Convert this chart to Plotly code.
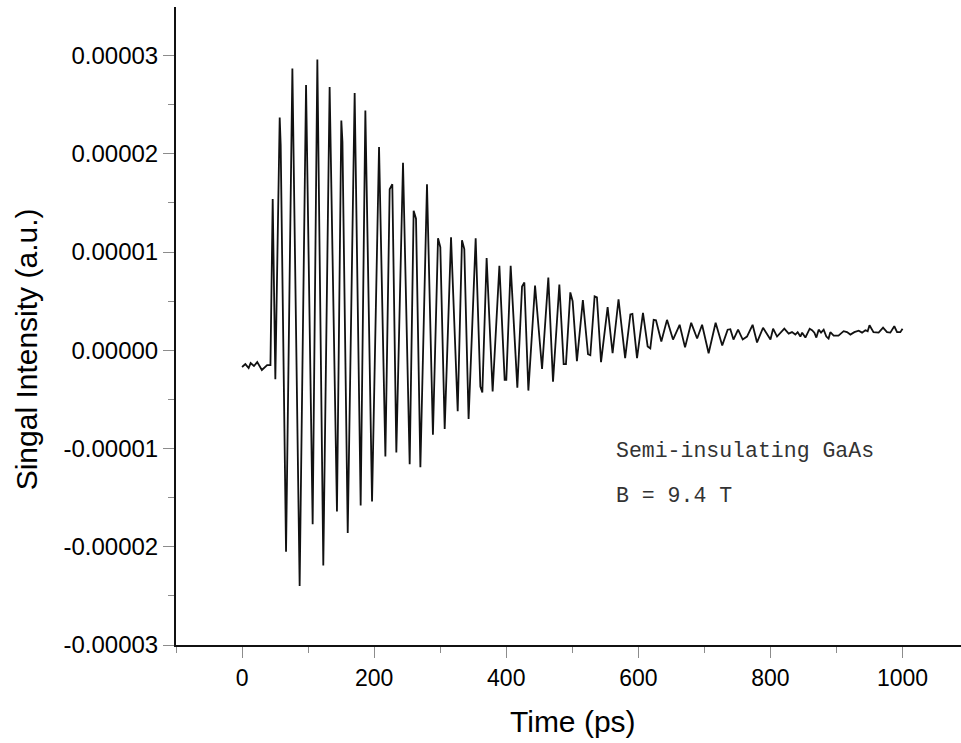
import plotly.graph_objects as go

# Time-resolved signal, time in ps
time_ps = [
    0, 5, 10, 13, 18, 23, 30, 38, 43,
    46.4, 50.4, 57, 58.5, 66.6, 76.2, 87.2, 96.9, 106.9, 114, 123,
    132.6, 143.7, 150.3, 152, 160, 170.5, 179.6, 186.7, 196.8, 207.4,
    217, 223.5, 227.5, 233.6, 243.7, 253.8, 259.8, 263.4, 270, 280,
    289, 296.7, 300.2, 306.8, 316.4, 326.5, 333, 336.5, 343, 353.7,
    360.8, 363.8, 370.3, 379.4, 389.6, 397.6, 400.1, 406.7, 416.8, 423.9,
    427.4, 433.5, 443.6, 454.2, 463.7, 470.8, 480.4, 486.9, 490.4, 497,
    500.5, 507, 516, 523.8, 527.3, 533.8, 537.3, 543.5, 553.5, 561,
    570, 580, 587.9, 591, 598, 607, 614.1, 618.1, 623.2, 626.7,
    634.8, 643.4, 652.5, 662.5, 670.7, 680, 689, 696.5, 706.4, 717,
    727, 735.2, 739.3, 744, 751, 758, 764.5, 773, 779.7, 788.8,
    800, 804, 810, 821, 827.6, 832.6, 837.7, 841.2, 845.3, 848,
    852.9, 859.4, 863, 866.5, 869.5, 873, 876.6, 880.6, 884.6, 888,
    890.7, 895.7, 903, 910.8, 915.9, 921, 927, 933.6, 938.7, 943.7,
    947.2, 950, 956, 963.8, 970.5, 976.5, 981.5, 987.5, 991.7, 996.6,
    1000,
]

# Signal intensity (a.u.)
intensity = [
    -1.7e-6, -1.4e-6, -1.8e-6, -1.3e-6, -1.6e-6, -1.2e-6, -2.0e-6, -1.5e-6, -1.5e-6,
    1.54e-5, -2.95e-6, 2.37e-5, 2.09e-5, -2.05e-5, 2.87e-5, -2.40e-5, 2.70e-5, -1.77e-5, 2.96e-5, -2.19e-5,
    2.68e-5, -1.64e-5, 2.34e-5, 2.12e-5, -1.86e-5, 2.62e-5, -1.58e-5, 2.44e-5, -1.54e-5, 2.07e-5,
    -1.08e-5, 1.64e-5, 1.69e-5, -1.04e-5, 1.91e-5, -1.16e-5, 1.42e-5, 1.34e-5, -1.19e-5, 1.69e-5,
    -8.6e-6, 1.14e-5, 1.05e-5, -8.0e-6, 1.15e-5, -6.2e-6, 1.12e-5, 1.03e-5, -7.0e-6, 1.14e-5,
    -3.7e-6, -4.3e-6, 9.4e-6, -4.2e-6, 8.6e-6, -3.0e-6, -3.0e-6, 8.6e-6, -3.8e-6, 6.5e-6,
    6.9e-6, -4.1e-6, 6.6e-6, -1.9e-6, 7.4e-6, -3.2e-6, 6.7e-6, -1.4e-6, -1.4e-6, 5.9e-6,
    5.0e-6, -1.1e-6, 5.1e-6, -4e-7, -5e-7, 5.5e-6, 5.4e-6, -1.2e-6, 4.4e-6, -3e-7,
    5.2e-6, -8e-7, 3.65e-6, 3.7e-6, -8e-7, 3.8e-6, 4e-7, 2e-7, 3.1e-6, 3.05e-6,
    9e-7, 3.1e-6, 1.1e-6, 2.6e-6, 3e-7, 2.8e-6, 1.2e-6, 2.6e-6, -3e-7, 2.8e-6,
    5e-7, 2.1e-6, 2.15e-6, 1.1e-6, 2.1e-6, 1.1e-6, 1.4e-6, 2.6e-6, 8e-7, 2.3e-6,
    1.1e-6, 2.2e-6, 1.4e-6, 2.2e-6, 1.7e-6, 1.85e-6, 1.6e-6, 1.85e-6, 1.4e-6, 1.8e-6,
    1.3e-6, 2.2e-6, 2.05e-6, 1.8e-6, 1.3e-6, 2.1e-6, 1.8e-6, 2.1e-6, 1.4e-6, 1.2e-6,
    1.85e-6, 1.5e-6, 1.5e-6, 1.95e-6, 1.85e-6, 1.6e-6, 1.85e-6, 2.0e-6, 1.8e-6, 2.05e-6,
    1.95e-6, 2.55e-6, 1.85e-6, 1.8e-6, 2.3e-6, 1.85e-6, 1.8e-6, 2.45e-6, 1.85e-6, 1.85e-6,
    2.2e-6,
]

x_tick_vals = [0, 200, 400, 600, 800, 1000]
x_tick_text = ["0", "200", "400", "600", "800", "1000"]
y_tick_vals = [3e-5, 2e-5, 1e-5, 0, -1e-5, -2e-5, -3e-5]
y_tick_text = ["0.00003", "0.00002", "0.00001", "0.00000",
               "-0.00001", "-0.00002", "-0.00003"]

sans = "Liberation Sans, Arial, sans-serif"

fig = go.Figure(
    go.Scatter(
        x=time_ps,
        y=intensity,
        mode="lines",
        line=dict(color="#111111", width=1.8),
        hoverinfo="skip",
    )
)

fig.update_layout(
    width=961,
    height=743,
    margin=dict(l=176, r=0, t=7, b=98),
    paper_bgcolor="white",
    plot_bgcolor="white",
    showlegend=False,
    font=dict(family=sans, color="black"),
)

fig.update_xaxes(
    range=[-100, 1088.5],
    showgrid=False,
    zeroline=False,
    showline=True,
    linecolor="#111111",
    linewidth=2,
    ticks="outside",
    ticklen=11,
    tickwidth=1,
    tickcolor="#8c8c8c",
    tickvals=x_tick_vals,
    ticktext=x_tick_text,
    tickfont=dict(size=23, family=sans, color="black"),
    minor=dict(ticks="outside", ticklen=6, tickcolor="#8c8c8c",
               tickwidth=1, tickvals=[-100, 100, 300, 500, 700, 900]),
)

fig.update_yaxes(
    range=[-3e-5, 3.495e-5],
    showgrid=False,
    zeroline=False,
    showline=True,
    linecolor="#111111",
    linewidth=2,
    ticks="outside",
    ticklen=11,
    tickwidth=1,
    tickcolor="#8c8c8c",
    tickvals=y_tick_vals,
    ticktext=y_tick_text,
    tickfont=dict(size=24, family=sans, color="black"),
    minor=dict(ticks="outside", ticklen=6, tickcolor="#8c8c8c", tickwidth=1,
               tickvals=[2.5e-5, 1.5e-5, 5e-6, -5e-6, -1.5e-5, -2.5e-5]),
)

# Axis titles
fig.add_annotation(
    text="Time (ps)", xref="paper", yref="paper",
    x=(573 - 176) / 785, y=(743 - 98 - 722) / 638,
    xanchor="center", yanchor="middle", showarrow=False,
    font=dict(size=30, family=sans, color="black"),
)
fig.add_annotation(
    text="Singal Intensity (a.u.)", xref="paper", yref="y",
    x=(26 - 176) / 785, y=0.1e-6,
    xanchor="center", yanchor="middle", textangle=-90, showarrow=False,
    font=dict(size=30, family=sans, color="black"),
)

# Sample description
mono = "Liberation Mono, Courier New, monospace"
fig.add_annotation(
    text="Semi-insulating GaAs", x=563, y=-1.02e-5,
    xanchor="left", yanchor="middle", showarrow=False,
    font=dict(size=21.5, family=mono, color="#333333"),
)
fig.add_annotation(
    text="B = 9.4 T", x=563, y=-1.48e-5,
    xanchor="left", yanchor="middle", showarrow=False,
    font=dict(size=21.5, family=mono, color="#333333"),
)

fig.write_html("out.html")
